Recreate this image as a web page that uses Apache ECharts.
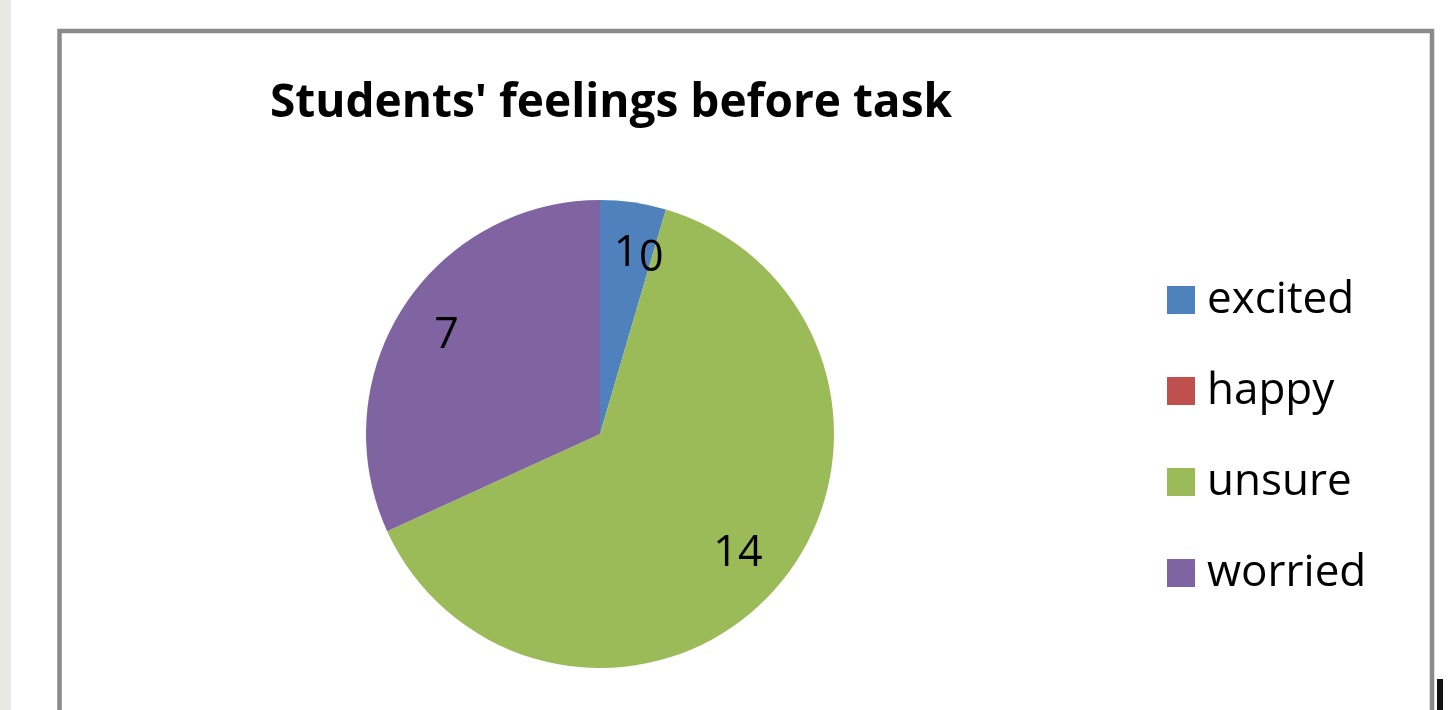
<!DOCTYPE html>
<html>
<head>
<meta charset="utf-8">
<script src="https://cdn.jsdelivr.net/npm/echarts@6/dist/echarts.min.js"></script>
<style>
html,body{margin:0;padding:0;background:#fff;}
#chart{width:1451px;height:710px;}
</style>
</head>
<body>
<div id="chart"></div>
<script>
const titleText = "Students' feelings before task";
const categories = ['excited', 'happy', 'unsure', 'worried'];
const values = [1, 0, 14, 7];
const colors = ['#4F81BD', '#C0504D', '#9BBB59', '#8064A2'];

const chart = echarts.init(document.getElementById('chart'), null, {renderer: 'canvas'});
const data = categories.map((c, i) => ({name: c, value: values[i], itemStyle: {color: colors[i]}}));
const font = '"Open Sans", "Noto Sans", sans-serif';

chart.setOption({
  animation: false,
  backgroundColor: '#fff',
  title: {
    text: titleText,
    left: 611, top: 81, textAlign: 'center', padding: 0,
    textStyle: {fontFamily: font, fontWeight: 'bold', fontSize: 46, color: '#000'}
  },
  legend: {
    orient: 'vertical',
    left: 1167, top: 278, padding: 0,
    itemWidth: 28, itemHeight: 28, itemGap: 47,
    icon: 'rect',
    data: categories,
    textStyle: {fontFamily: font, fontSize: 44, color: '#000', lineHeight: 40, padding: [0, 0, 0, 7]}
  },
  graphic: [
    {type: 'rect', shape: {x: 0, y: 0, width: 11, height: 710}, style: {fill: '#e8e8e4'}, silent: true},
    {type: 'rect', shape: {x: 59.5, y: 31, width: 1372.5, height: 720}, style: {fill: null, stroke: '#8a8a8a', lineWidth: 4.5}, silent: true, z: 10},
    {type: 'rect', shape: {x: 1437, y: 679, width: 6, height: 40}, style: {fill: '#111'}, silent: true}
  ],
  series: [
    {
      type: 'pie',
      center: [600, 434], radius: 234,
      startAngle: 90, clockwise: true,
      label: {show: false}, labelLine: {show: false},
      itemStyle: {borderWidth: 0},
      silent: true,
      data: data
    },
    {
      type: 'pie',
      center: [600, 434], radius: [125, 234],
      startAngle: 90, clockwise: true,
      silent: true,
      legendHoverLink: false,
      itemStyle: {color: 'rgba(0,0,0,0)', borderWidth: 0},
      label: {show: true, position: 'inside', formatter: '{c}', fontFamily: font, fontSize: 43, color: '#000'},
      labelLine: {show: false},
      data: categories.map((c, i) => ({name: c + ' ', value: values[i]}))
    }
  ]
});
</script>
</body>
</html>
